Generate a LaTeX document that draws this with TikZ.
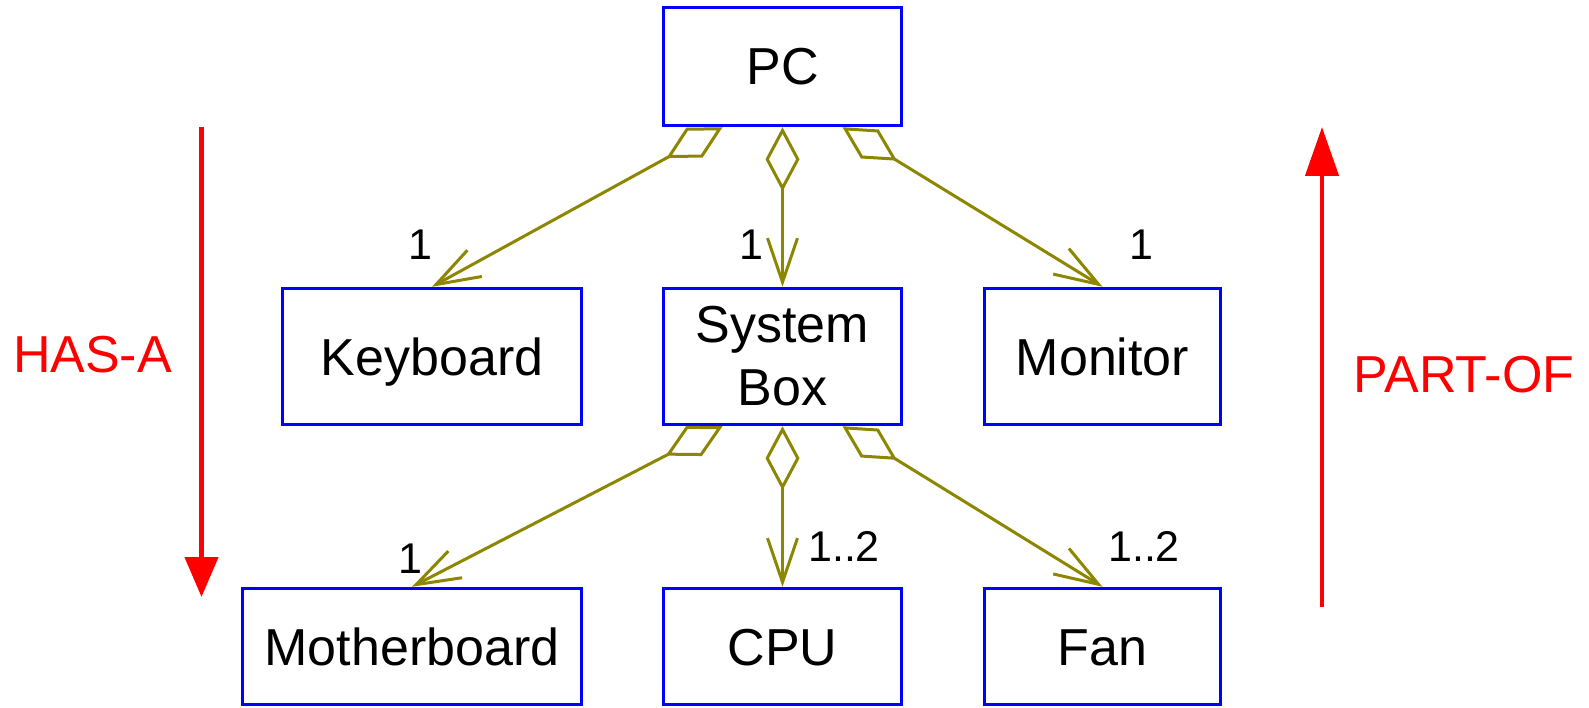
\documentclass[tikz,border=0pt]{standalone}
\usepackage{fontspec}
\setmainfont{Liberation Sans}
\usetikzlibrary{arrows.meta}
\begin{document}
\begin{tikzpicture}[x=1pt,y=-1pt,
  box/.style={draw=blue, line width=3.5pt, inner sep=0pt, align=center,
    font=\fontsize{52}{63}\selectfont},
  oneline/.style={text height=37pt, text depth=0pt},
  mult/.style={font=\fontsize{43}{50}\selectfont, inner sep=0pt,
    text height=31pt, text depth=0pt},
  agg/.style={draw=olive, line width=3pt,
    {Diamond[open,length=64pt,width=34pt]}-{Straight Barb[length=44pt,width=30pt]}},
  dirarrow/.style={draw=red, line width=4.5pt, -{Triangle[length=#1,width=33pt]}},
  dirlabel/.style={text=red, font=\fontsize{52}{63}\selectfont, inner sep=0pt,
    text height=37pt, text depth=0pt}
]
\useasboundingbox (0,0) rectangle (1589,708);

% class boxes
\node[box, oneline, minimum width=238pt, minimum height=118pt] (pc)  at (782.5,66.5)  {PC};
\node[box, oneline, minimum width=299pt, minimum height=136pt] (kb)  at (432,356.5)   {Keyboard};
\node[box,          minimum width=238pt, minimum height=136pt] (sys) at (782.5,356.5) {System\\Box};
\node[box, oneline, minimum width=236pt, minimum height=136pt] (mon) at (1102.5,356.5) {Monitor};
\node[box, oneline, minimum width=339pt, minimum height=116pt] (mb)  at (412,646.5)   {Motherboard};
\node[box, oneline, minimum width=238pt, minimum height=116pt] (cpu) at (782.5,646.5) {CPU};
\node[box, oneline, minimum width=236pt, minimum height=116pt] (fan) at (1102.5,646.5) {Fan};

% attachment points on the whole-side of each aggregation
\coordinate (pc-l) at ([xshift=-60pt]pc.south);
\coordinate (pc-m) at (pc.south);
\coordinate (pc-r) at ([xshift=60pt]pc.south);
\coordinate (sys-l) at ([xshift=-60pt]sys.south);
\coordinate (sys-m) at (sys.south);
\coordinate (sys-r) at ([xshift=60pt]sys.south);

% aggregations
\draw[agg] (pc-l) -- (kb.north);
\draw[agg] (pc-m) -- (sys.north);
\draw[agg] (pc-r) -- (mon.north);
\draw[agg] (sys-l) -- (mb.north);
\draw[agg] (sys-m) -- (cpu.north);
\draw[agg] (sys-r) -- (fan.north);

% multiplicities
\node[mult] (m-kb)  at (420,244)  {1};
\node[mult] (m-sys) at (751,244)  {1};
\node[mult] (m-mon) at (1141,244) {1};
\node[mult] (m-mb)  at (410,558)  {1};
\node[mult] (m-cpu) at (844,546)  {1..2};
\node[mult] (m-fan) at (1144,546) {1..2};

% reading directions
\coordinate (has-top) at (201.5,127);
\coordinate (has-bot) at (201.5,597);
\coordinate (part-bot) at (1322,607);
\coordinate (part-top) at (1322,127);
\draw[dirarrow=40pt] (has-top) -- (has-bot);
\draw[dirarrow=49pt] (part-bot) -- (part-top);
\node[dirlabel] (has) at (92.5,353.5) {HAS-A};
\node[dirlabel] (part) at (1464,374) {PART-OF};
\end{tikzpicture}
\end{document}
